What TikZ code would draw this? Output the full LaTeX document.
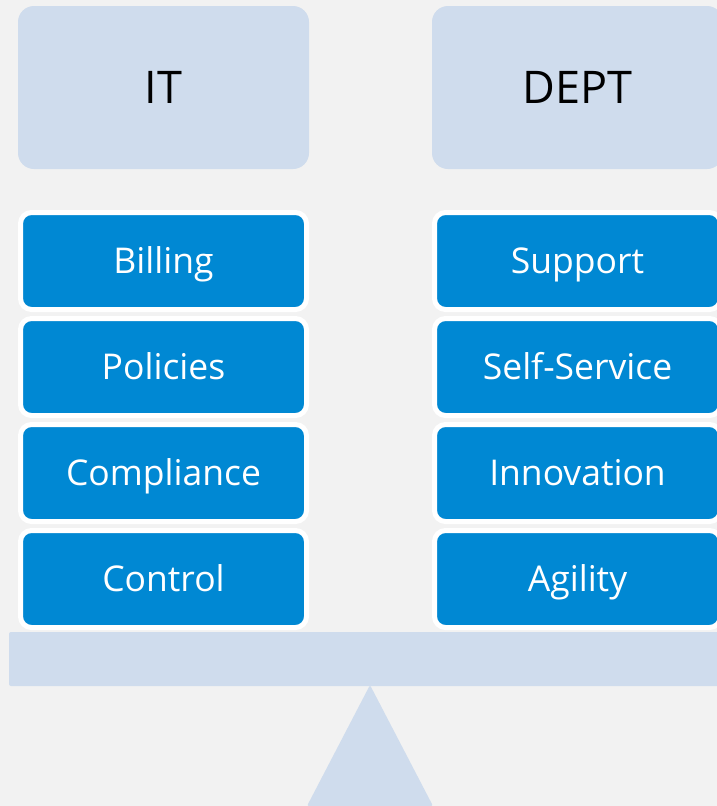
\documentclass[tikz,border=0pt]{standalone}
\usepackage{fontspec}
\setmainfont{Open Sans}
\definecolor{paper}{HTML}{F2F2F2}
\definecolor{pale}{HTML}{CFDCED}
\definecolor{azure}{HTML}{0088D3}
\begin{document}
\begin{tikzpicture}[x=1pt, y=-1pt, line join=round, line cap=round,
	head/.style={fill=pale, rounded corners=16pt, minimum width=291pt, minimum height=163pt, inner sep=0pt, text height=32pt, text depth=0pt, text=black, font=\fontsize{45}{52}\selectfont},
	item/.style={fill=azure, draw=white, line width=5pt, rounded corners=11pt, minimum width=286pt, minimum height=97pt, inner sep=0pt, text height=25.3pt, text depth=0pt, text=white, font=\fontsize{35.5}{42}\selectfont}]
	\useasboundingbox (0,0) rectangle (717,806);
	\clip (0,0) rectangle (717,806);
	\fill[paper] (0,0) rectangle (717,806);
	
	\path 
	(163.5,87.5) coordinate (L)
	(577.5,87.5) coordinate (R)
	(370,685) coordinate (P)
	;
	
	% headers
	\node[head] (it) at (L) {IT};
	\node[head] (dept) at (R) {DEPT};
	
	% stacked values
	\foreach \n/\t/\y in {billing/Billing/261, policies/Policies/367, compliance/Compliance/473, control/Control/579}
	\node[item] (\n) at (163.5,\y) {\t};
	\foreach \n/\t/\y in {support/Support/261, selfservice/Self-Service/367, innovation/Innovation/473, agility/Agility/579}
	\node[item] (\n) at (577.5,\y) {\t};
	
	% beam and pivot
	\fill[pale, rounded corners=2pt] (9,632) rectangle (740,686);
	\fill[pale, rounded corners=2pt] (P)--(307,806)--(433,806)--cycle;
\end{tikzpicture}
\end{document}
